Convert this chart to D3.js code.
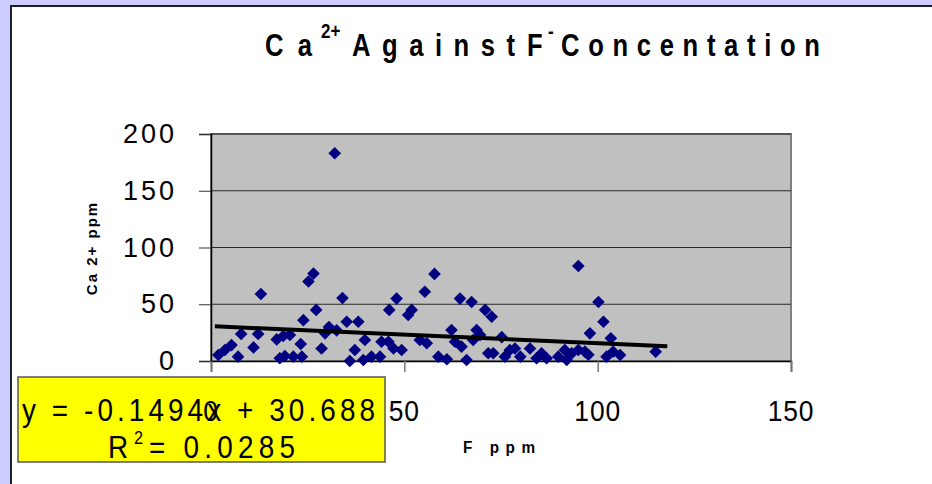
<!DOCTYPE html>
<html><head><meta charset="utf-8">
<script src="https://cdn.jsdelivr.net/npm/d3@7"></script>
<style>body{margin:0;background:#ccccff}svg{display:block}</style>
</head><body><svg id="c" width="932" height="484"></svg>
<script>
// F ppm (x) and Ca 2+ ppm (y)
const fPpm = [1.9,3.6,5.3,7,7.8,11,12.2,12.9,17,18.7,20.4,17.8,19.1,21.3,23.2,23.9,25.2,26.5,32,34,
  27.2,35.1,38.1,30.5,32.5,29.5,28.6,39.8,37.2,44.1,45.9,47.2,35.9,39.4,41.5,43.7,23.5,48,46.1,57.8,
  55.3,64.4,67.4,51.9,51,70.9,72.6,62.2,68.7,69.6,54,55.8,63.1,64.8,67.8,49.3,71.7,58.8,61,66.1,
  95,75.2,98,78.6,82.5,76,80,84.2,86.8,89.8,91.5,93.3,95,96.7,73,92,77.3,85.5,100.2,101.5,
  103.4,97.6,102.3,104,105.8,115];
const caPpm = [5.3,9.7,14,3.8,23.8,12,23.8,59,19,22,23,2.4,4.4,3.8,15,36,70,77,183,55.5,
  45,34.6,34.6,30,27,24.4,11,18.5,9.7,17,17,11,0,0.9,3.8,3.8,3.8,55,45,76.7,
  61,55,52,45,40.5,45,39,27.3,27.3,23,18.5,15.6,17,12.6,18.5,9.7,6.8,3.8,1.5,0.9,
  83.7,21,24.4,11,11,3.8,3.8,2.4,2.4,3.8,9.7,6.8,9.7,8.2,6.8,0.9,9.7,6.8,52,34.6,
  20,5.5,3.8,8.2,5.3,8.2];
const xTicks = [0, 50, 100, 150];
const yTicks = [0, 50, 100, 150, 200];
const trendSlope = -0.1494, trendIntercept = 30.688;
const trendXRange = [1, 118];
const titleParts = ["Ca", "2+", "Against", "F", "-", "Concentation"];
const eqText = "y = -0.1494x + 30.688";
const r2Text = ["R", "2", "= 0.0285"];

const svg = d3.select("#c");
const FONT = "'Liberation Sans', Arial, sans-serif";
svg.append("rect").attr("width",932).attr("height",484).attr("fill","#ccccff");
svg.append("rect").attr("x",11).attr("y",6).attr("width",940).attr("height",500)
  .attr("fill","#ffffff").attr("stroke","#1c1c2c").attr("stroke-width",2);

// condensed text helper: horizontally scaled glyphs, optional fitted length
function sText(parent, px, py, str, size, sx, len, bold) {
  const t = parent.append("text").attr("transform",`translate(${px},${py}) scale(${sx},1)`)
    .attr("font-family",FONT).attr("font-size",size).attr("fill","#000");
  if (bold) t.attr("font-weight","bold");
  if (len) t.attr("textLength",len/sx).attr("lengthAdjust","spacing");
  t.text(str);
  return t;
}

const x = d3.scaleLinear().domain([0,150]).range([211,791]);
const y = d3.scaleLinear().domain([0,200]).range([361,134]);

// plot area
svg.append("rect").attr("x",x(0)).attr("y",y(200)).attr("width",x(150)-x(0)).attr("height",y(0)-y(200))
  .attr("fill","#c0c0c0").attr("stroke","#808080").attr("stroke-width",2);
svg.append("g").selectAll("line").data(yTicks.filter(d=>d>0)).join("line")
  .attr("x1",x(0)).attr("x2",x(150)).attr("y1",d=>y(d)).attr("y2",d=>y(d))
  .attr("stroke","#2a2a2a").attr("stroke-width",1.2);

// axes
const yAxis = svg.append("g").attr("transform",`translate(${x(0)},0)`)
  .call(d3.axisLeft(y).tickValues(yTicks).tickSize(12).tickPadding(22).tickFormat(d3.format("d")));
yAxis.select(".domain").attr("stroke","#000").attr("stroke-width",1.5);
yAxis.selectAll(".tick line").attr("stroke","#333");
yAxis.selectAll(".tick text").attr("font-family",FONT).attr("font-size",27)
  .attr("letter-spacing","3px").attr("fill","#000");

const xAxisG = svg.append("g").attr("transform",`translate(0,${y(0)})`)
  .call(d3.axisBottom(x).tickValues(xTicks).tickSize(11).tickFormat(()=>""));
xAxisG.select(".domain").attr("stroke","#000").attr("stroke-width",1.5);
xAxisG.selectAll(".tick line").attr("stroke","#777").attr("stroke-width",1.5);

// points
svg.append("g").selectAll("path").data(fPpm.map((f,i)=>[f,caPpm[i]])).join("path")
  .attr("d", d3.symbol(d3.symbolSquare, 80))
  .attr("transform", d=>`translate(${x(d[0])},${y(d[1])}) rotate(45)`)
  .attr("fill","#000080");

// trend line
svg.append("line")
  .attr("x1",x(trendXRange[0])).attr("y1",y(trendSlope*trendXRange[0]+trendIntercept))
  .attr("x2",x(trendXRange[1])).attr("y2",y(trendSlope*trendXRange[1]+trendIntercept))
  .attr("stroke","#000").attr("stroke-width",4);

// equation box
svg.append("rect").attr("x",18).attr("y",377).attr("width",367).attr("height",85)
  .attr("fill","#ffff00").attr("stroke","#555").attr("stroke-width",1.5);
sText(svg, 22, 421, eqText, 31, 0.9, 353, false);
sText(svg, 108, 458, r2Text[0], 31, 0.9, null, false);
sText(svg, 134, 444, r2Text[1], 18, 0.9, null, false);
sText(svg, 149, 458, r2Text[2], 31, 0.9, 146, false);

// x tick labels (drawn over the box)
svg.append("g").selectAll("text").data(xTicks).join("text")
  .attr("transform",d=>`translate(${x(d)},421) scale(0.88,1)`)
  .attr("text-anchor","middle")
  .attr("font-family",FONT).attr("font-size",30).attr("letter-spacing","1px")
  .text(d=>d);

// axis titles
sText(svg, 463, 453, "F ppm", 17, 0.9, 72, true);
svg.append("text").attr("transform","translate(97,248) rotate(-90)").attr("text-anchor","middle")
  .attr("font-family",FONT).attr("font-weight","bold").attr("font-size",15).attr("letter-spacing","2px")
  .text("Ca 2+ ppm");

// title
const tg = svg.append("g");
sText(tg, 265, 56, titleParts[0], 32, 0.8, 47, true);
sText(tg, 321, 38, titleParts[1], 20, 0.85, null, true);
sText(tg, 352, 56, titleParts[2], 32, 0.8, 163, true);
sText(tg, 527, 56, titleParts[3], 32, 0.8, null, true);
sText(tg, 548, 38, titleParts[4], 20, 0.85, null, true);
sText(tg, 561, 56, titleParts[5], 32, 0.8, 259, true);
</script></body></html>
